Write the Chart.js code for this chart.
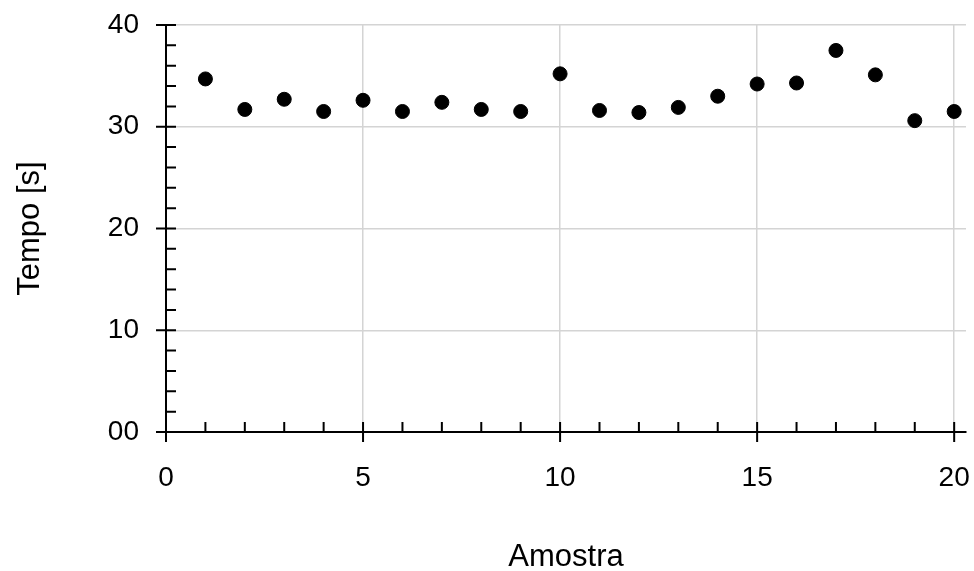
<!DOCTYPE html>
<html>
<head>
<meta charset="utf-8">
<script src="https://cdn.jsdelivr.net/npm/chart.js@4"></script>
<style>
    html, body { margin: 0; padding: 0; background: #fff; }
    #wrap { width: 974px; height: 571px; }
</style>
</head>
<body>
<div id="wrap"><canvas id="myChart"></canvas></div>
<script>
// data
const amostras = [1, 2, 3, 4, 5, 6, 7, 8, 9, 10, 11, 12, 13, 14, 15, 16, 17, 18, 19, 20];
const tempos = [34.7, 31.7, 32.7, 31.5, 32.6, 31.5, 32.4, 31.7, 31.5, 35.2,
                31.6, 31.4, 31.9, 33.0, 34.2, 34.3, 37.5, 35.1, 30.6, 31.5];
const xTicks = [0, 5, 10, 15, 20];
const xTickLabels = ['0', '5', '10', '15', '20'];
const yTicks = [0, 10, 20, 30, 40];
const yTickLabels = ['00', '10', '20', '30', '40'];

const font = "'Liberation Sans', Arial, sans-serif";

// tick marks: major ones cross the axis, minor ones point inward
const tickMarks = {
    id: 'tickMarks',
    afterDraw(chart) {
        const ctx = chart.ctx;
        const xs = chart.scales.x, ys = chart.scales.y;
        const x0 = xs.getPixelForValue(0);
        const y0 = ys.getPixelForValue(0);
        ctx.save();
        ctx.strokeStyle = '#000';
        ctx.lineWidth = 2;
        ctx.beginPath();
        for (let v = 0; v <= 20; v++) {
            const px = xs.getPixelForValue(v);
            const major = v % 5 === 0;
            ctx.moveTo(px, y0 - 10);
            ctx.lineTo(px, major ? y0 + 10 : y0);
        }
        for (let v = 0; v <= 40; v += 2) {
            const py = ys.getPixelForValue(v);
            const major = v % 10 === 0;
            ctx.moveTo(major ? x0 - 10 : x0, py);
            ctx.lineTo(x0 + 10, py);
        }
        ctx.stroke();
        ctx.restore();
    }
};

const ctx = document.getElementById('myChart').getContext('2d');
new Chart(ctx, {
    type: 'scatter',
    data: {
        datasets: [{
            label: 'Tempo',
            data: amostras.map((a, i) => ({ x: a, y: tempos[i] })),
            backgroundColor: '#000',
            borderColor: '#000',
            pointRadius: 7,
            pointHoverRadius: 7
        }]
    },
    options: {
        responsive: true,
        maintainAspectRatio: false,
        animation: false,
        layout: { padding: { left: 12, right: 8, top: 25, bottom: 0 } },
        plugins: {
            legend: { display: false },
            tooltip: { enabled: false }
        },
        scales: {
            x: {
                type: 'linear',
                min: 0,
                max: 20.3,
                afterBuildTicks: s => { s.ticks = xTicks.map(v => ({ value: v })); },
                afterFit: s => {
                    s.height = 571 - 432;
                    s.paddingLeft = 0;
                    s.paddingRight = 0;
                },
                ticks: {
                    callback: (v) => xTickLabels[xTicks.indexOf(v)],
                    color: '#000',
                    font: { family: font, size: 28 },
                    padding: 29,
                    maxRotation: 0
                },
                grid: { color: '#d4d4d4', lineWidth: 1.5, drawTicks: false },
                border: { color: '#000', width: 2 },
                title: {
                    display: true,
                    text: 'Amostra',
                    color: '#000',
                    font: { family: font, size: 31, lineHeight: 0.85 },
                    padding: { top: 0, bottom: 0 }
                }
            },
            y: {
                min: 0,
                max: 40,
                afterBuildTicks: s => { s.ticks = yTicks.map(v => ({ value: v })); },
                afterFit: s => {
                    s.width = 166 - 12;
                    s.paddingTop = 0;
                    s.paddingBottom = 0;
                },
                ticks: {
                    callback: (v) => yTickLabels[yTicks.indexOf(v)],
                    color: '#000',
                    font: { family: font, size: 28 },
                    padding: 27
                },
                grid: { color: '#d4d4d4', lineWidth: 1.5, drawTicks: false },
                border: { color: '#000', width: 2 },
                title: {
                    display: true,
                    text: 'Tempo [s]',
                    color: '#000',
                    font: { family: font, size: 31 },
                    padding: { top: 0, bottom: 0 }
                }
            }
        }
    },
    plugins: [tickMarks]
});
</script>
</body>
</html>
